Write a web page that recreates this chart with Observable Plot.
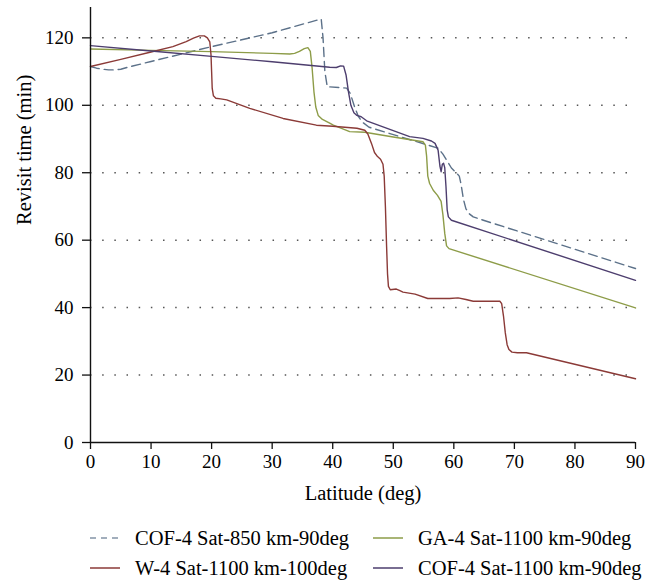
<!DOCTYPE html>
<html>
<head>
<meta charset="utf-8">
<script src="https://cdn.jsdelivr.net/npm/d3@7"></script>
<script src="https://cdn.jsdelivr.net/npm/@observablehq/plot@0.6"></script>
<style>
  html, body { margin: 0; padding: 0; background: #fff; }
  body { width: 660px; font-family: "Liberation Serif", "Times New Roman", serif; color: #000; }
  #legend { display: grid; grid-template-columns: 283px auto; padding-left: 90px; margin-top: 13px; font-size: 20.5px; line-height: 30px; }
  .item { display: flex; align-items: center; white-space: nowrap; }
  .item svg { margin-right: 15px; flex: none; }
  svg text { font-family: "Liberation Serif", "Times New Roman", serif; }
</style>
</head>
<body>
<div id="chart"></div>
<div id="legend"></div>
<script>
// ---- data ----
const xTicks = [0, 10, 20, 30, 40, 50, 60, 70, 80, 90];
const yTicks = [0, 20, 40, 60, 80, 100, 120];
const xLabel = "Latitude (deg)";
const yLabel = "Revisit time (min)";

const cof850Name = "COF-4 Sat-850 km-90deg";
const cof850Lat = [0, 1, 2, 3, 4, 5, 6, 10, 20, 30, 38.1, 38.4, 38.7, 39.1, 42.3, 42.9, 43.6, 44.2, 44.9, 46, 51.1, 57.4, 58.2, 58.8, 59.6, 60.4, 60.9, 61.2, 61.6, 62.0, 62.5, 63.2, 64.2, 90];
const cof850Val = [111.5, 111.0, 110.7, 110.5, 110.5, 110.7, 111.2, 113.0, 117.4, 121.5, 125.6, 120, 110, 105.5, 105.1, 103.5, 99.6, 96.8, 95.0, 93.5, 90.7, 87.3, 85.5, 83.8, 81.4, 80.0, 79.0, 76.5, 72.0, 69.3, 67.9, 66.9, 66.3, 51.6];

const wName = "W-4 Sat-1100 km-100deg";
const wLat = [0, 5, 10, 13.6, 15.8, 17, 18.0, 18.8, 19.3, 19.7, 19.9, 20.0, 20.1, 20.3, 20.7, 21.5, 22.5, 26.3, 31.8, 37.3, 40, 44, 45.3, 45.8, 46.4, 46.9, 47.4, 47.9, 48.3, 48.5, 48.7, 48.9, 49.05, 49.2, 49.5, 50.5, 51.0, 51.6, 53.6, 55.7, 59.3, 60.7, 62.0, 63.2, 67.6, 67.9, 68.2, 68.5, 68.8, 69.1, 69.6, 70.5, 72.0, 90];
const wVal = [111.5, 113.6, 115.8, 117.4, 118.9, 119.9, 120.6, 120.6, 120.0, 118.8, 115, 110, 105, 102.8, 102.1, 101.9, 101.6, 99.1, 96.1, 94.1, 93.8, 93.2, 92.6, 91.5, 88.7, 86.0, 84.8, 84.0, 82.5, 79, 70, 58, 50, 46.3, 45.3, 45.5, 45.1, 44.6, 44.0, 42.7, 42.7, 42.9, 42.4, 41.9, 41.9, 41.2, 37.5, 32.5, 29.0, 27.6, 26.8, 26.6, 26.6, 18.9];

const gaName = "GA-4 Sat-1100 km-90deg";
const gaLat = [0, 10, 20, 30, 32.9, 33.7, 34.5, 35.3, 35.9, 36.3, 36.6, 36.9, 37.2, 37.6, 38.3, 39.5, 40.1, 42.8, 45.3, 50, 54.9, 55.3, 55.5, 55.7, 56.0, 56.6, 57.3, 57.9, 58.2, 58.5, 58.8, 59.2, 90];
const gaVal = [116.7, 116.3, 115.9, 115.4, 115.2, 115.4, 116.0, 116.8, 117.1, 116.0, 111.0, 104.0, 99.5, 97.0, 95.8, 94.7, 94.1, 92.2, 92.0, 90.6, 89.2, 88.2, 85.0, 79.0, 76.8, 74.8, 73.3, 71.5, 67.5, 62.0, 58.3, 57.5, 39.9];

const cof1100Name = "COF-4 Sat-1100 km-90deg";
const cof1100Lat = [0, 10, 20, 30, 39.5, 40.6, 41.3, 41.8, 42.2, 42.6, 43.0, 43.5, 44.0, 44.7, 45.6, 52.7, 54.9, 56.3, 56.9, 57.4, 57.7, 57.9, 58.1, 58.3, 58.5, 58.7, 58.9, 59.1, 59.6, 90];
const cof1100Val = [117.7, 116.1, 114.5, 112.9, 111.3, 111.2, 111.7, 111.6, 109.0, 104.0, 100.0, 97.8, 97.0, 96.6, 95.4, 90.7, 90.2, 89.4, 88.7, 86.7, 82.0, 80.3, 82.5, 82.8, 81.5, 76.0, 69.0, 66.9, 65.9, 48.1];

// ---- build ----
const toRows = (lat, val) => lat.map((x, i) => ({x, y: val[i]}));
const series = [
  {name: cof850Name, rows: toRows(cof850Lat, cof850Val), color: "#5c7189", dash: "9 5"},
  {name: gaName, rows: toRows(gaLat, gaVal), color: "#8d9c48", dash: null},
  {name: wName, rows: toRows(wLat, wVal), color: "#8b3a37", dash: null},
  {name: cof1100Name, rows: toRows(cof1100Lat, cof1100Val), color: "#4d3e6e", dash: null}
];

const serif = "'Liberation Serif', 'Times New Roman', serif";
const chart = Plot.plot({
  width: 660,
  height: 510,
  marginLeft: 90,
  marginRight: 25,
  marginTop: 7,
  marginBottom: 68,
  style: {fontFamily: serif, fontSize: "19px", color: "#000", background: "#fff"},
  x: {domain: [0, 90]},
  y: {domain: [0, 129]},
  marks: [
    Plot.ruleY(yTicks.filter(d => d > 0), {stroke: "#555", strokeWidth: 1.5, strokeDasharray: "1.5 10.67"}),
    ...series.map(s => Plot.line(s.rows, {x: "x", y: "y", stroke: s.color, strokeWidth: 1.4, strokeDasharray: s.dash, strokeLinejoin: "round", curve: "linear"})),
    Plot.ruleX([0], {stroke: "#111", strokeWidth: 1.4}),
    Plot.ruleY([0], {stroke: "#111", strokeWidth: 1.4}),
    Plot.axisY({ticks: yTicks, tickSize: 8, tickPadding: 9, label: null, fontSize: 19, fontFamily: serif, stroke: "#111", strokeWidth: 1.3}),
    Plot.axisX({ticks: xTicks, tickSize: 7, tickPadding: 5, label: null, fontSize: 19, fontFamily: serif, stroke: "#111", strokeWidth: 1.3}),
    Plot.text([xLabel], {frameAnchor: "bottom", dy: 51, lineAnchor: "middle", fontSize: 20.5, fontFamily: serif}),
    Plot.text([yLabel], {frameAnchor: "left", dx: -66, rotate: -90, lineAnchor: "middle", fontSize: 20.5, fontFamily: serif})
  ]
});
document.getElementById("chart").appendChild(chart);

// legend
const legend = document.getElementById("legend");
for (const s of series) {
  const item = document.createElement("div");
  item.className = "item";
  item.innerHTML = `<svg width="30" height="10"><line x1="0" x2="30" y1="5" y2="5" stroke="${s.color}" stroke-width="1.5" ${s.dash ? `stroke-dasharray="6 5"` : ""} opacity="${s.dash ? 0.75 : 1}"></line></svg><span></span>`;
  item.querySelector("span").textContent = s.name;
  legend.appendChild(item);
}
</script>
</body>
</html>
